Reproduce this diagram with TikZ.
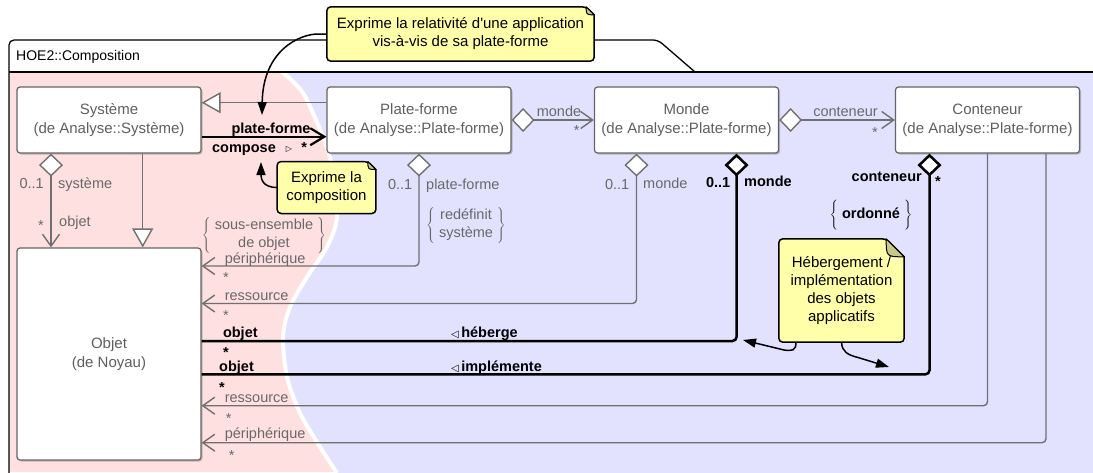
\documentclass[tikz,border=0pt]{standalone}
\usepackage{fontspec}
\setmainfont{Liberation Sans}
\newfontfamily\symfont{DejaVu Sans}
\usetikzlibrary{arrows.meta,shadows}
\definecolor{pinkbg}{RGB}{255,224,224}
\definecolor{bluebg}{RGB}{226,226,255}
\definecolor{clsborder}{RGB}{100,100,100}
\definecolor{clstext}{RGB}{95,95,95}
\definecolor{linegray}{RGB}{112,112,112}
\definecolor{lblgray}{RGB}{105,105,105}
\definecolor{notefill}{RGB}{255,255,170}
\definecolor{foldc}{RGB}{200,200,140}
\pgfdeclarelayer{bgl}
\pgfdeclarelayer{notel}
\pgfsetlayers{bgl,notel,main}
\newcommand{\drawnote}[2]{%
  \begin{pgfonlayer}{notel}
  \draw[line width=1.5pt, fill=notefill, rounded corners=4pt] (#1.south west) -- (#1.north west) -- ([xshift=-#2]#1.north east) [sharp corners] -- ([yshift=-#2]#1.north east) [rounded corners=4pt] -- (#1.south east) -- cycle;
  \draw[line width=1pt, fill=foldc, line join=round] ([xshift=-#2]#1.north east) -- ([yshift=-#2]#1.north east) .. controls ([xshift=-#2,yshift=-#2]#1.north east) .. ([xshift=-#2]#1.north east) -- cycle;
  \end{pgfonlayer}}
\newcommand{\bracetext}[1]{$\left\{\rule[-14pt]{0pt}{36pt}\;\mbox{\begin{tabular}{@{}c@{}}#1\end{tabular}}\;\right\}$}
\begin{document}
\begin{tikzpicture}[x=1pt,y=-1pt,
  cls/.style={draw=clsborder, line width=1.2pt, fill=white, rounded corners=3pt,
    minimum width=184pt, minimum height=66pt, inner sep=0pt, align=center, text=clstext,
    font=\fontsize{15}{19}\selectfont,
    drop shadow={shadow xshift=1.5pt, shadow yshift=-1.5pt, opacity=0.3, fill=black!70}},
  notetxt/.style={align=center, font=\fontsize{15}{18}\selectfont, text=black, inner sep=0pt},
  lbl/.style={text=lblgray, font=\fontsize{14.5}{18}\selectfont, inner sep=0pt},
  blbl/.style={text=black, font=\bfseries\fontsize{14.5}{18}\selectfont, inner sep=0pt},
  gl/.style={draw=linegray, line width=1.4pt},
  bl/.style={draw=black, line width=2.5pt},
  umldia/.tip={Diamond[length=23pt,width=24pt,fill=white]},
  umlbarb/.tip={Straight Barb[length=12pt,width=17pt]},
  umlbbarb/.tip={Straight Barb[length=14pt,width=17pt]},
  umlgen/.tip={Triangle[length=19pt,width=21pt,fill=white]},
  umlnote/.tip={Triangle[length=13pt,width=9pt]}
]
\useasboundingbox (0,0) rectangle (1093,472);
\begin{pgfonlayer}{bgl}
  \fill[white] (0,0) rectangle (1093,472);
  \fill[pinkbg] (9,72) rectangle (1093,472);
  \fill[bluebg] plot[smooth] coordinates {(282,72) (303,93) (323,137) (333,170) (337,217) (327,247) (307,277) (290,307) (283,337) (287,377) (300,413) (320,447) (337,473)} -- (1093,473) -- (1093,72) -- cycle;
  \draw[white, line width=4pt] plot[smooth] coordinates {(282,72) (303,93) (323,137) (333,170) (337,217) (327,247) (307,277) (290,307) (283,337) (287,377) (300,413) (320,447) (337,473)};
  \draw[line width=1.3pt, rounded corners=5pt] (9,474) -- (9,40) -- (658,40) -- (695,72);
  \draw[line width=1.3pt] (9,72) -- (1093,72);
\end{pgfonlayer}
\node[font=\fontsize{14}{17}\selectfont, anchor=base west, inner sep=0pt] (tabt) at (16,60) {HOE2::Composition};

% classes
\node[cls] (sys) at (109,120) {Système\\(de Analyse::Système)};
\node[cls] (pf) at (419,120) {Plate-forme\\(de Analyse::Plate-forme)};
\node[cls] (monde) at (686.5,120) {Monde\\(de Analyse::Plate-forme)};
\node[cls] (cont) at (987.5,120) {Conteneur\\(de Analyse::Plate-forme)};
\node[cls, minimum height=212pt] (obj) at (109,354) {Objet\\(de Noyau)};

% connectors
\draw[gl, -umlgen] ([yshift=17.3pt]pf.west) -- ([yshift=17.3pt]sys.east);
\draw[bl, line width=2.2pt, -umlbbarb] ([yshift=-16.7pt]sys.east) -- ([yshift=-16.7pt]pf.west);
\draw[gl, umldia-umlbarb] (pf.east) -- (monde.west);
\draw[gl, umldia-umlbarb] (monde.east) -- (cont.west);
\draw[gl, umldia-umlbarb] ([xshift=-58pt]sys.south) -- ([xshift=-58pt]obj.north);
\draw[gl, -umlgen] ([xshift=33.7pt]sys.south) -- ([xshift=33.7pt]obj.north);
\draw[gl, rounded corners=4pt, umldia-umlbarb] (pf.south) |- (obj.east |- 0,266);
\draw[gl, rounded corners=4pt, umldia-umlbarb] ([xshift=-50pt]monde.south) |- (obj.east |- 0,303.5);
\draw[bl, rounded corners=4pt, umldia-] ([xshift=50pt]monde.south) |- (obj.east |- 0,341);
\draw[bl, rounded corners=4pt, umldia-] ([xshift=-58pt]cont.south) |- (obj.east |- 0,374.3);
\draw[gl, rounded corners=4pt, -umlbarb] (cont.south) |- (obj.east |- 0,405.7);
\draw[gl, rounded corners=4pt, -umlbarb] ([xshift=58.5pt]cont.south) |- (obj.east |- 0,442.7);

% labels: compose
\node[blbl, anchor=base] (cpl) at (271,133) {plate-forme};
\node[blbl, anchor=base] (cpc) at (244,152.5) {compose};
\node[anchor=base, inner sep=0pt, font=\symfont\fontsize{8}{10}\selectfont] (cps) at (289,151.5) {▷};
\node[blbl, anchor=base] (cpm) at (304.3,152.5) {*};
% pf -> monde, monde -> cont
\node[lbl, anchor=base] (pml) at (559,116) {monde};
\node[lbl, anchor=base] (pmm) at (576.7,135.5) {*};
\node[lbl, anchor=base] (mcl) at (845.5,116) {conteneur};
\node[lbl, anchor=base] (mcm) at (875,137) {*};
% sys -> obj
\node[lbl, anchor=base east] (som) at (44,188) {0..1};
\node[lbl, anchor=base west] (sor) at (58,188) {système};
\node[lbl, anchor=base] (sos) at (41,230.4) {*};
\node[lbl, anchor=base west] (sob) at (59,226) {objet};
% pf -> obj
\node[lbl, anchor=base east] (pom) at (412.5,189) {0..1};
\node[lbl, anchor=base west] (por) at (426,189) {plate-forme};
\node[lbl] (redef) at (466,225) {\bracetext{redéfinit\\système}};
\node[lbl] (subset) at (264,235) {\bracetext{sous-ensemble\\de objet}};
\node[lbl, anchor=base west] (pol) at (224.6,263) {périphérique};
\node[lbl, anchor=base] (pos) at (226,282) {*};
% monde -> obj (ressource)
\node[lbl, anchor=base east] (mom) at (629.5,189) {0..1};
\node[lbl, anchor=base west] (mor) at (643,188.5) {monde};
\node[lbl, anchor=base west] (mol) at (224.6,300.5) {ressource};
\node[lbl, anchor=base] (mos) at (226,320.3) {*};
% heberge
\node[blbl, anchor=base east] (hm) at (730.5,187) {0..1};
\node[blbl, anchor=base west] (hr) at (744,186.5) {monde};
\node[blbl, anchor=base west] (hl) at (222.8,337.5) {objet};
\node[blbl, anchor=base] (hs) at (226,357.7) {*};
\node[blbl, anchor=base west] (hebl) at (451,337.5) {{\symfont\mdseries\fontsize{10}{12}\selectfont ◁}\,héberge};
% implemente
\node[blbl, anchor=base east] (ir) at (922,181.5) {conteneur};
\node[blbl, anchor=base] (im) at (938,186.7) {*};
\node[blbl] (ord) at (871,214.5) {$\left\{\rule[-12pt]{0pt}{32pt}\;\mbox{ordonné}\;\right\}$};
\node[blbl, anchor=base west] (il) at (219,371) {objet};
\node[blbl, anchor=base] (is) at (222,392) {*};
\node[blbl, anchor=base west] (impl) at (451,371) {{\symfont\mdseries\fontsize{10}{12}\selectfont ◁}\,implémente};
% ressource2, peripherique2
\node[lbl, anchor=base west] (r2l) at (224.6,402) {ressource};
\node[lbl, anchor=base] (r2s) at (228.8,423.7) {*};
\node[lbl, anchor=base west] (p2l) at (224.6,438.5) {périphérique};
\node[lbl, anchor=base] (p2s) at (231.6,460) {*};

% notes
\node[notetxt, minimum width=267pt, minimum height=54pt] (tn) at (460.5,34) {Exprime la relativité d\textquotesingle une application\\vis-à-vis de sa plate-forme};
\drawnote{tn}{8pt}
\node[notetxt, minimum width=98.4pt, minimum height=51.6pt] (cn) at (326.5,187.5) {Exprime la\\composition};
\drawnote{cn}{8pt}
\node[notetxt, minimum width=125pt, minimum height=103pt] (hn) at (841.5,290.5) {Hébergement /\\implémentation\\des objets\\applicatifs};
\drawnote{hn}{18pt}

\coordinate (pfT) at (262,115);
\coordinate (cmpT) at (261,162);
\coordinate (hbT) at (743,340);
\coordinate (imT) at (889,367);
\draw[line width=1.5pt, -umlnote] (tn.west) -- (318,34) .. controls (300,34) and (263,50) .. (pfT);
\draw[line width=1.5pt, -umlnote] (cn.west) .. controls (262,187.5) and (261,178) .. (cmpT);
\draw[line width=1.5pt, -umlnote] ([xshift=-45.5pt]hn.south) .. controls (796,351) and (792,351) .. (784,350) -- (hbT);
\draw[line width=1.5pt, -umlnote] (hn.south) .. controls (842,352) and (848,355) .. (858,357.5) -- (imT);
\end{tikzpicture}
\end{document}
